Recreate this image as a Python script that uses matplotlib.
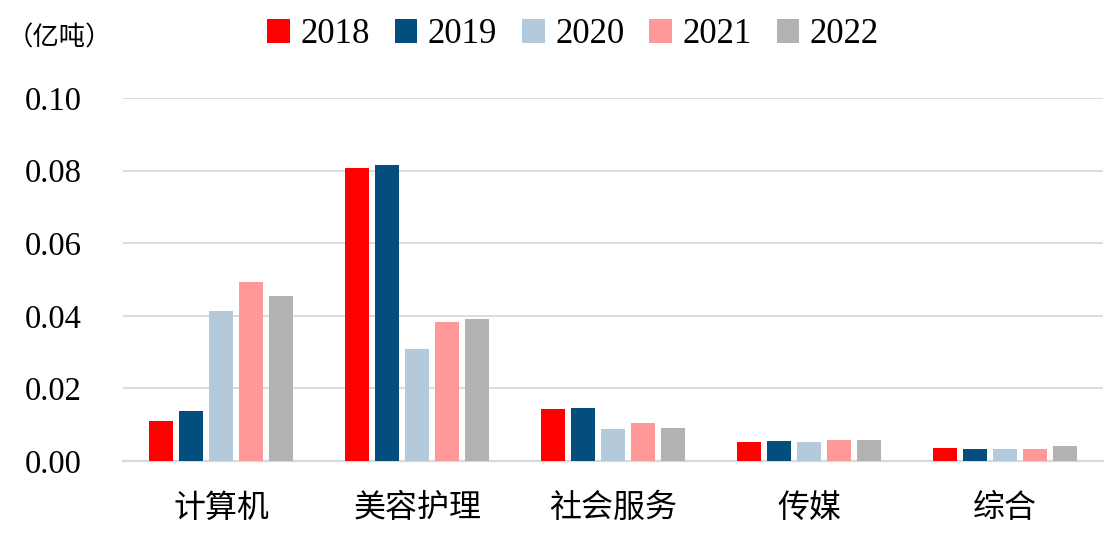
import numpy as np
import matplotlib.pyplot as plt

plt.rcParams['font.family'] = ['Liberation Serif', 'Noto Sans CJK SC']

categories = ['计算机', '美容护理', '社会服务', '传媒', '综合']
years = ['2018', '2019', '2020', '2021', '2022']
v2018 = [0.0110, 0.0806, 0.0143, 0.0052, 0.0036]
v2019 = [0.0138, 0.0815, 0.0146, 0.0055, 0.0033]
v2020 = [0.0413, 0.0308, 0.0088, 0.0052, 0.0032]
v2021 = [0.0493, 0.0382, 0.0105, 0.0058, 0.0033]
v2022 = [0.0455, 0.0390, 0.0090, 0.0058, 0.0041]
colors = ['#FF0000', '#044E7E', '#B4C9D9', '#FF9999', '#B2B2B2']

series = [v2018, v2019, v2020, v2021, v2022]

fig = plt.figure(figsize=(11.19, 5.34), dpi=100)
ax = fig.add_axes([0.110, 0.1367, 0.876, 0.6798])

x = np.arange(len(categories))
step = 0.153
width = 0.122
for i, vals in enumerate(series):
    ax.bar(x + (i - 2) * step, vals, width, color=colors[i], label=years[i], zorder=3)

ax.set_xlim(-0.5, len(categories) - 0.5)
ax.set_ylim(0, 0.10)
ax.set_yticks(np.arange(0, 0.101, 0.02))
ax.set_yticklabels([f'{t:.2f}' for t in np.arange(0, 0.101, 0.02)], fontsize=23.5)
ax.set_xticks(x)
ax.set_xticklabels(categories, fontsize=23, family=['Noto Sans CJK SC'])
ax.tick_params(axis='both', length=0)
ax.tick_params(axis='x', pad=22)
ax.tick_params(axis='y', pad=30)
ax.grid(axis='y', color='#D9D9D9', lw=1.3, zorder=0)
for s in ['top', 'right', 'left']:
    ax.spines[s].set_visible(False)
ax.spines['bottom'].set_color('#D9D9D9')
ax.spines['bottom'].set_linewidth(1.6)

fig.text(0.006, 0.929, '（亿吨）', fontsize=19, family=['Noto Sans CJK SC'], va='center')
fig.legend(loc='center', bbox_to_anchor=(0.512, 0.935), ncol=5, frameon=False,
           fontsize=25, handlelength=0.65, handleheight=0.65, handletextpad=0.3,
           columnspacing=0.72)

fig.savefig('out.png', dpi=100)
